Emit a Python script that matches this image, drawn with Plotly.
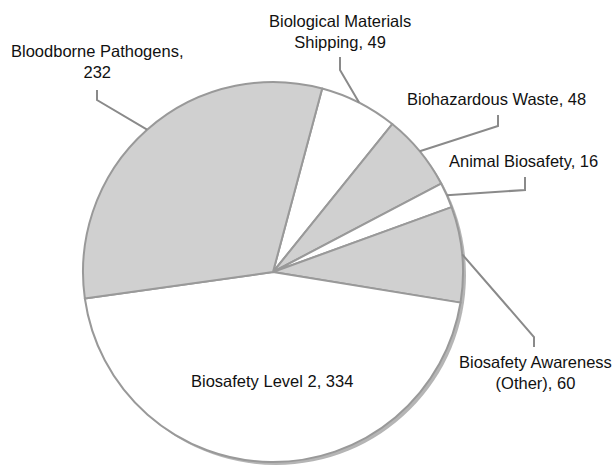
import math
import plotly.graph_objects as go

# ---- data ----
categories = ["Biological Materials<br>Shipping", "Biohazardous Waste", "Animal Biosafety",
              "Biosafety Awareness<br>(Other)", "Biosafety Level 2", "Bloodborne Pathogens"]
values = [49, 48, 16, 60, 334, 232]
fills = ["#ffffff", "#d0d0d0", "#ffffff", "#d0d0d0", "#ffffff", "#d0d0d0"]
label_texts = ["Biological Materials<br>Shipping, 49", "Biohazardous Waste, 48",
               "Animal Biosafety, 16", "Biosafety Awareness<br>(Other), 60",
               "Biosafety Level 2, 334", "Bloodborne Pathogens,<br>232"]

# ---- layout geometry (pixels) ----
W, H = 614, 470
CX, CY, R = 273, 272, 190
ROT = 15  # degrees clockwise from 12 o'clock where first slice starts

def px(x):
    return x / W

def py(y):
    return 1 - y / H

# label centre positions, elbow (end of short vertical tick), tick start
label_pos = [(340, 32), (496, 99), (523, 161), (535, 372), (272, 381), (97, 62)]
elbows = [((340, 57), (340, 70)), ((498, 115), (498, 126)), ((525, 177), (525, 190)),
          ((534, 347), (534, 337)), None, ((97, 90), (97, 100))]

fig = go.Figure()

# shadow
fig.add_trace(go.Pie(
    values=[1], marker=dict(colors=["#b5b5b5"], line=dict(width=0)),
    textinfo="none", hoverinfo="skip", showlegend=False, sort=False,
    domain=dict(x=[px(CX - R + 3), px(CX + R + 3)], y=[py(CY + R + 3), py(CY - R + 3)]),
))

fig.add_trace(go.Pie(
    labels=categories, values=values, sort=False, direction="clockwise", rotation=ROT,
    marker=dict(colors=fills, line=dict(color="#999999", width=2)),
    textinfo="none", showlegend=False,
    domain=dict(x=[px(CX - R), px(CX + R)], y=[py(CY + R), py(CY - R)]),
))

total = sum(values)
cum = 0
shapes = []
annotations = []
for i, v in enumerate(values):
    mid = ROT + (cum + v / 2) / total * 360
    cum += v
    ex = CX + R * math.sin(math.radians(mid))
    ey = CY - R * math.cos(math.radians(mid))
    lx, ly = label_pos[i]
    annotations.append(dict(
        x=px(lx), y=py(ly), xref="paper", yref="paper", text=label_texts[i],
        showarrow=False, xanchor="center", yanchor="middle", align="center",
        font=dict(family="Liberation Sans, Arial, sans-serif", size=16.5, color="#111111"),
    ))
    if elbows[i] is not None:
        (x0, y0), (x1, y1) = elbows[i]
        path = f"M {px(x0)} {py(y0)} L {px(x1)} {py(y1)} L {px(ex)} {py(ey)}"
        shapes.append(dict(type="path", path=path, xref="paper", yref="paper",
                           line=dict(color="#8a8a8a", width=2)))

fig.update_layout(
    width=W, height=H, margin=dict(l=0, r=0, t=0, b=0),
    paper_bgcolor="white", plot_bgcolor="white",
    shapes=shapes, annotations=annotations,
)

fig.write_html("out.html", config={"displayModeBar": False},
               post_script="document.body.style.margin='0';")
